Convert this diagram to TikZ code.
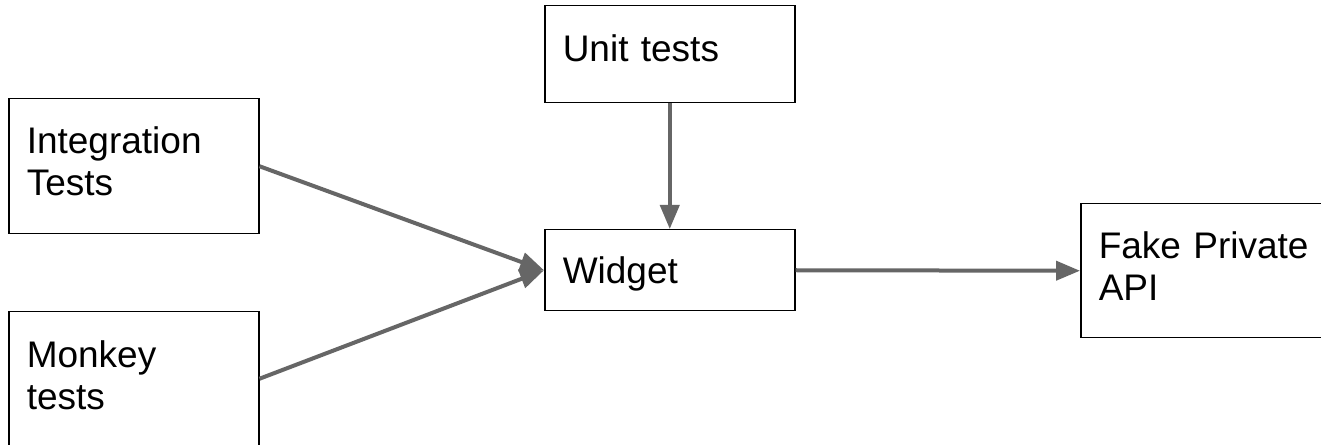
\documentclass[tikz,border=0pt]{standalone}
\usepackage{fontspec}
\setmainfont{Liberation Sans}
\usetikzlibrary{arrows.meta}

\definecolor{linegray}{HTML}{666666}

\tikzset{
  testbox/.style={draw=black, line width=1.5pt, rectangle, anchor=north west,
    inner xsep=18pt, inner ysep=0pt, text width=214pt, align=left,
    font=\fontsize{37}{42}\selectfont},
  link/.style={draw=linegray, line width=4pt, -{Triangle[length=24pt,width=19pt]}}
}

\begin{document}
\begin{tikzpicture}[x=1pt,y=1pt]
  \useasboundingbox[fill=white] (0,0) rectangle (1321,444);

  % boxes
  \node[testbox, text height=56pt, text depth=41pt] (unit) at (544,439) {Unit tests};
  \node[testbox, text height=55pt, text depth=80pt] (integ) at (8,346) {Integration\\Tests};
  \node[testbox, text height=56pt, text depth=78pt] (monkey) at (8,133) {Monkey\\tests};
  \node[testbox, text height=54pt, text depth=27pt] (widget) at (544,215) {Widget};
  \node[testbox, text height=55pt, text depth=79pt, text width=260pt] (fake) at (1080,241) {Fake Private\\API};

  % draw arrows
  \draw[link] (integ.east) -- (widget.west);
  \draw[link] (monkey.east) -- (widget.west);
  \draw[link] (unit.south) -- (widget.north);
  \draw[link] (widget.east) -- (fake.west);
\end{tikzpicture}
\end{document}
